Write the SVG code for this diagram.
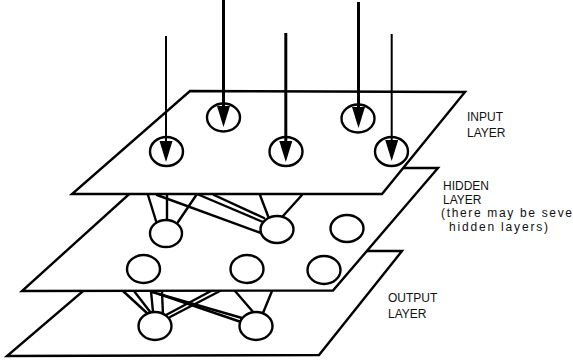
<svg xmlns="http://www.w3.org/2000/svg" width="573" height="362" viewBox="0 0 573 362">
<style>
.plane{fill:#fff;stroke:#000;stroke-width:2.4;stroke-linejoin:miter}
.node{fill:#fff;stroke:#000;stroke-width:2.4}
.link{stroke:#000;stroke-width:2.4;fill:none;stroke-linecap:round}
.arrow{stroke:#000;fill:none}
.lbl{font-family:"Liberation Sans",Arial,sans-serif;font-size:12px;fill:#111}
</style>
<defs>
<marker id="ah" markerUnits="userSpaceOnUse" markerWidth="22" markerHeight="14" refX="0" refY="6.5" orient="auto">
<path d="M0,0 L21,6.5 L0,13 z" fill="#000"/>
</marker>
</defs>
<g id="output-layer">
<polygon class="plane" points="130,251 402,251 319,355 7,356"/>
</g>
<g id="output-links">
<line class="link" x1="123" y1="291" x2="148" y2="314"/>
<line class="link" x1="134" y1="291" x2="151" y2="313"/>
<line class="link" x1="151" y1="291" x2="153" y2="312"/>
<line class="link" x1="162" y1="292" x2="163" y2="315"/>
<line class="link" x1="152" y1="292" x2="242" y2="318"/>
<line class="link" x1="159" y1="294" x2="241" y2="322"/>
<line class="link" x1="220" y1="291" x2="170" y2="317"/>
<line class="link" x1="211" y1="291" x2="166" y2="315"/>
<line class="link" x1="235" y1="291" x2="254" y2="313"/>
<line class="link" x1="272" y1="291" x2="263" y2="313"/>
</g>
<g id="output-nodes">
<ellipse id="out1" class="node" cx="155" cy="326" rx="16.5" ry="14"/>
<ellipse id="out2" class="node" cx="256" cy="326" rx="16.5" ry="14"/>
</g>
<g id="hidden-layer">
<polygon class="plane" points="158,168 438,168 333,290.5 22,291"/>
</g>
<g id="hidden-links">
<line class="link" x1="148" y1="195" x2="156" y2="221"/>
<line class="link" x1="167" y1="195" x2="167" y2="220"/>
<line class="link" x1="197" y1="194" x2="178" y2="222"/>
<line class="link" x1="157" y1="195" x2="261" y2="233"/>
<line class="link" x1="197" y1="194" x2="263" y2="222"/>
<line class="link" x1="214" y1="195" x2="264" y2="218"/>
<line class="link" x1="260" y1="195" x2="268" y2="216"/>
<line class="link" x1="302" y1="195" x2="283" y2="216"/>
</g>
<g id="hidden-nodes">
<ellipse id="h1" class="node" cx="166" cy="233.5" rx="16" ry="13.5"/>
<ellipse id="h2" class="node" cx="277" cy="229.5" rx="16.5" ry="13.5"/>
<ellipse id="h3" class="node" cx="347" cy="228.5" rx="16.5" ry="13.5"/>
<ellipse id="h4" class="node" cx="143.5" cy="269" rx="16.5" ry="14"/>
<ellipse id="h5" class="node" cx="247" cy="269" rx="16.5" ry="14"/>
<ellipse id="h6" class="node" cx="324" cy="270" rx="16.5" ry="14"/>
</g>
<g id="input-layer">
<polygon class="plane" points="190,91 465,92 382,194 72,194"/>
</g>
<g id="input-nodes">
<ellipse id="in1" class="node" cx="223.5" cy="117.5" rx="16.5" ry="14"/>
<ellipse id="in2" class="node" cx="358" cy="118.5" rx="16.5" ry="14"/>
<ellipse id="in3" class="node" cx="166.5" cy="151.5" rx="16.5" ry="14.5"/>
<ellipse id="in4" class="node" cx="286" cy="151.5" rx="16.5" ry="14.5"/>
<ellipse id="in5" class="node" cx="391.5" cy="151.5" rx="16.5" ry="14.5"/>
</g>
<g id="input-arrows">
<line class="arrow" x1="166" y1="36" x2="166" y2="141" stroke-width="2" marker-end="url(#ah)"/>
<line class="arrow" x1="223.5" y1="0" x2="223.5" y2="106" stroke-width="3" marker-end="url(#ah)"/>
<line class="arrow" x1="285.8" y1="33" x2="285.8" y2="141" stroke-width="3" marker-end="url(#ah)"/>
<line class="arrow" x1="358.5" y1="2" x2="358.5" y2="107" stroke-width="3" marker-end="url(#ah)"/>
<line class="arrow" x1="391.7" y1="34" x2="391.7" y2="140" stroke-width="2" marker-end="url(#ah)"/>
</g>
<g id="labels">
<text class="lbl" x="467" y="120.5">INPUT</text>
<text class="lbl" x="467" y="137">LAYER</text>
<text class="lbl" x="443" y="190">HIDDEN</text>
<text class="lbl" x="443" y="203.5">LAYER</text>
<text class="lbl" x="441" y="217" textLength="131" lengthAdjust="spacing">(there may be seve</text>
<text class="lbl" x="449" y="230.5" textLength="99" lengthAdjust="spacing">hidden layers)</text>
<text class="lbl" x="388" y="301.5">OUTPUT</text>
<text class="lbl" x="388" y="318">LAYER</text>
</g>
</svg>
